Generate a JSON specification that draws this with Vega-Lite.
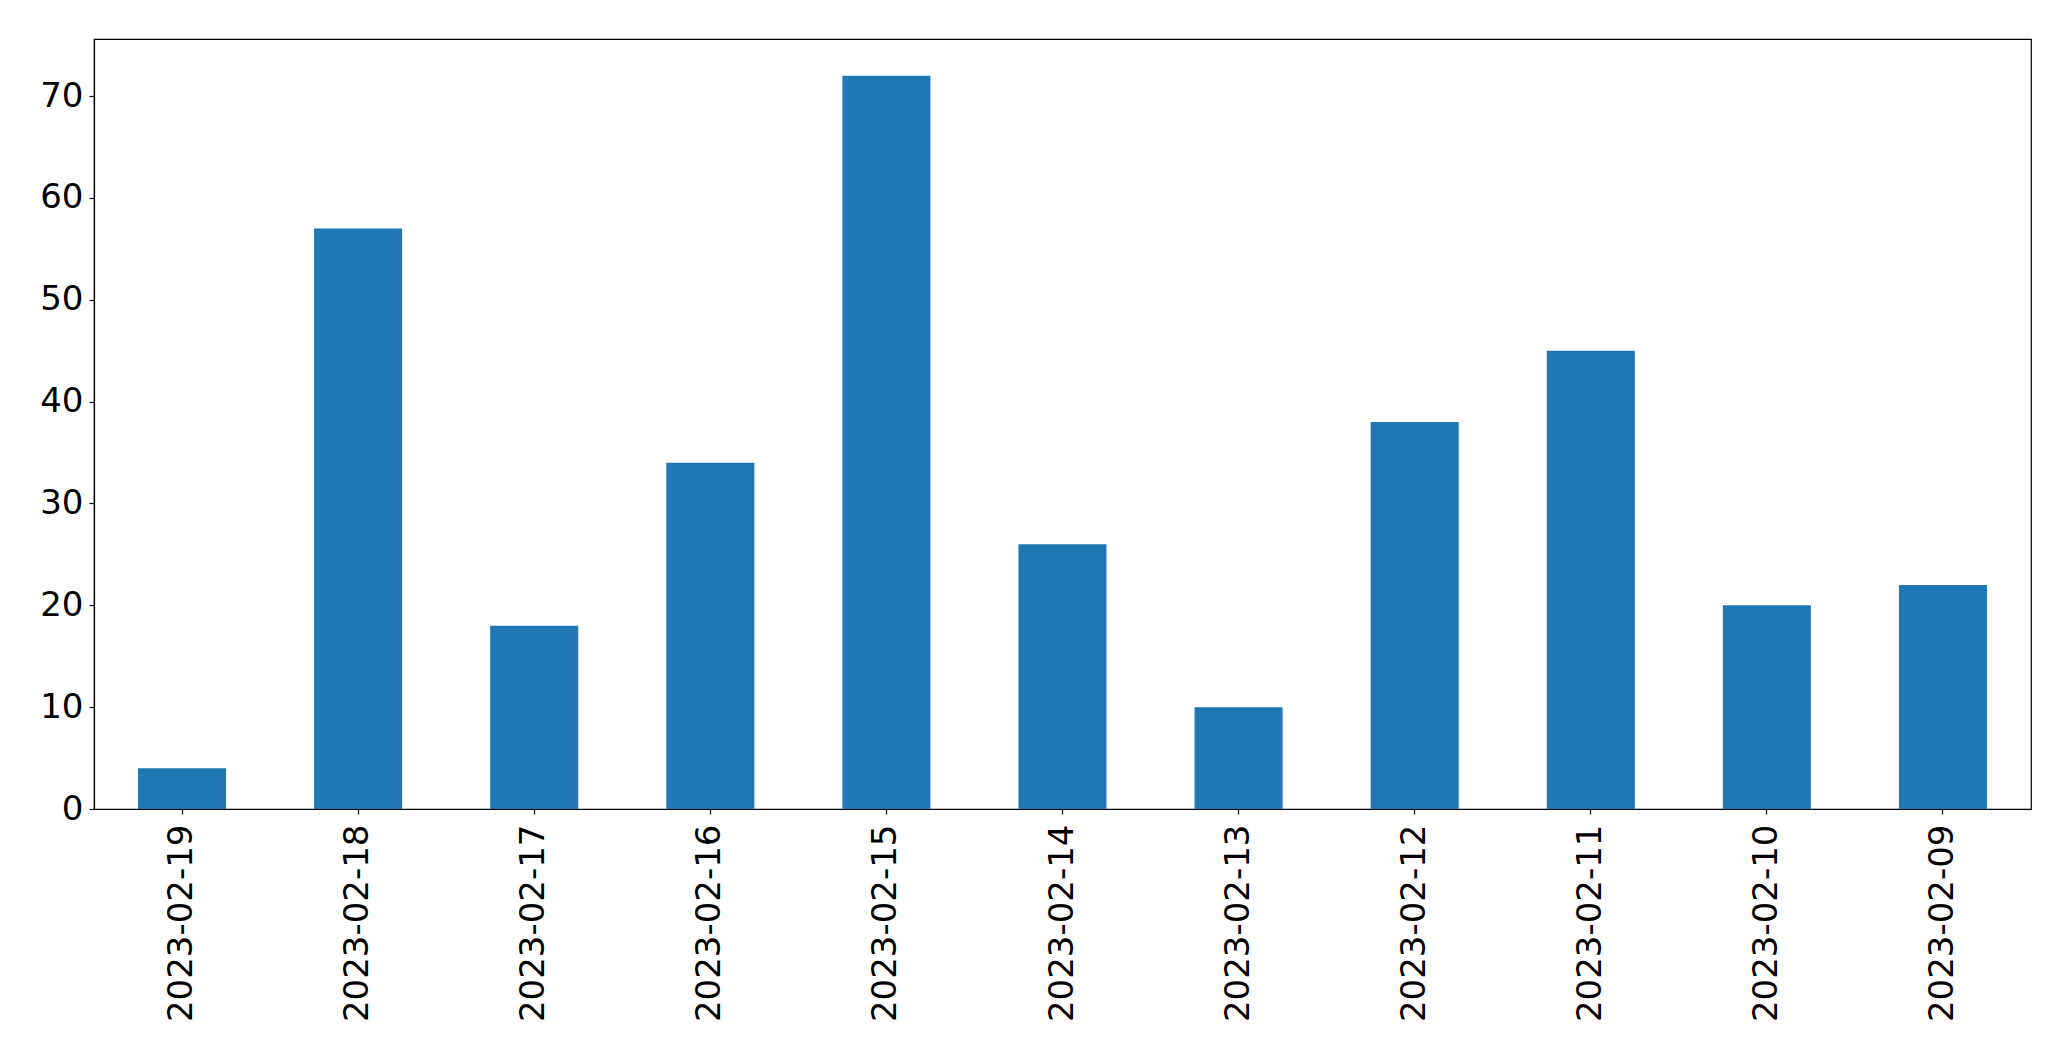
{
  "$schema": "https://vega.github.io/schema/vega-lite/v6.json",
  "width": 1937,
  "height": 770,
  "autosize": {"type": "none"},
  "padding": {"left": 94, "top": 39, "right": 40, "bottom": 252},
  "background": "white",
  "config": {
    "view": {"stroke": "black", "strokeWidth": 1.2},
    "font": "DejaVu Sans",
    "axis": {
      "grid": false,
      "domainColor": "black",
      "domainWidth": 1.2,
      "tickColor": "black",
      "tickWidth": 1.2,
      "tickSize": 5,
      "labelColor": "black",
      "labelFont": "DejaVu Sans",
      "labelFontSize": 34,
      "labelLimit": 0,
      "title": null
    }
  },
  "data": {
    "values": [
      {"date": "2023-02-19", "count": 4},
      {"date": "2023-02-18", "count": 57},
      {"date": "2023-02-17", "count": 18},
      {"date": "2023-02-16", "count": 34},
      {"date": "2023-02-15", "count": 72},
      {"date": "2023-02-14", "count": 26},
      {"date": "2023-02-13", "count": 10},
      {"date": "2023-02-12", "count": 38},
      {"date": "2023-02-11", "count": 45},
      {"date": "2023-02-10", "count": 20},
      {"date": "2023-02-09", "count": 22}
    ]
  },
  "mark": {"type": "bar", "color": "#1f77b4"},
  "encoding": {
    "x": {
      "field": "date",
      "type": "nominal",
      "sort": null,
      "scale": {"paddingInner": 0.5, "paddingOuter": 0.25},
      "axis": {"labelAngle": -90, "labelPadding": 10}
    },
    "y": {
      "field": "count",
      "type": "quantitative",
      "scale": {"domain": [0, 75.6], "nice": false, "zero": true},
      "axis": {"values": [0, 10, 20, 30, 40, 50, 60, 70], "labelPadding": 6}
    }
  }
}
